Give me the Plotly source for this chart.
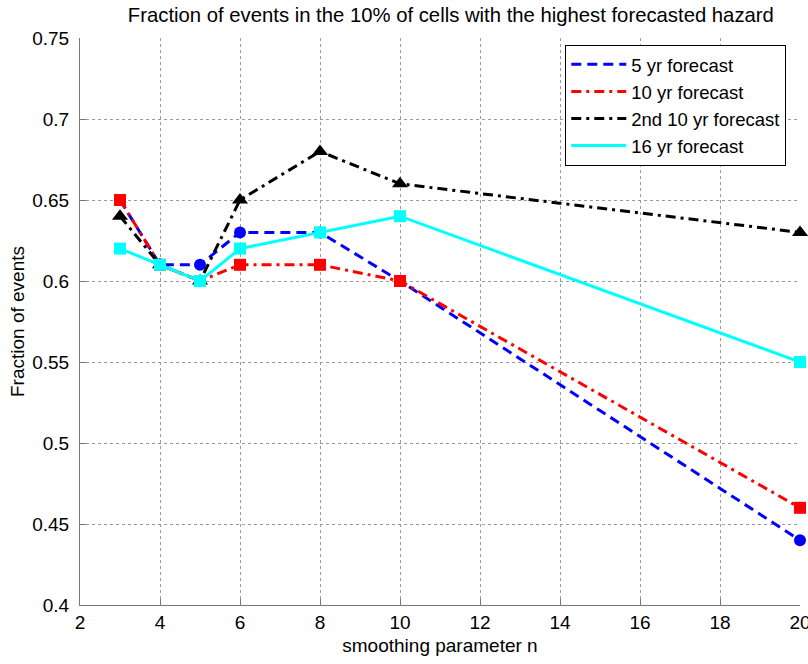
import plotly.graph_objects as go

n_vals = [3, 4, 5, 6, 8, 10, 20]
yr5 = [0.65, 0.61, 0.61, 0.63, 0.63, 0.60, 0.44]
yr10 = [0.65, 0.61, 0.60, 0.61, 0.61, 0.60, 0.46]
yr10_2nd = [0.64, 0.61, 0.60, 0.65, 0.68, 0.66, 0.63]
yr16 = [0.62, 0.61, 0.60, 0.62, 0.63, 0.64, 0.55]

series_names = ["5 yr forecast", "10 yr forecast", "2nd 10 yr forecast", "16 yr forecast"]
series_vals = [yr5, yr10, yr10_2nd, yr16]
colors = ["#0000ff", "#ff0000", "#000000", "#00ffff"]
dashes = ["10px,6px", "10px,5px,3px,5px", "10px,5px,3px,5px", "solid"]
symbols = ["circle", "square", "triangle-up", "square"]

xticks = [2, 4, 6, 8, 10, 12, 14, 16, 18, 20]
yticks = [0.4, 0.45, 0.5, 0.55, 0.6, 0.65, 0.7, 0.75]
ytick_text = ["0.4", "0.45", "0.5", "0.55", "0.6", "0.65", "0.7", "0.75"]

fig = go.Figure()
for name, vals, c, d, s in zip(series_names, series_vals, colors, dashes, symbols):
    fig.add_trace(go.Scatter(x=n_vals, y=vals, mode="lines", name=name, cliponaxis=False,
                             line=dict(color=c, dash=d, width=3)))
    fig.add_trace(go.Scatter(x=n_vals, y=vals, mode="markers", showlegend=False,
                             cliponaxis=False,
                             marker=dict(color=c, symbol=s, size=12 if s != "triangle-up" else 14,
                                         line=dict(width=0))))

font = "Liberation Sans, Arial, Helvetica, sans-serif"
fig.update_layout(
    width=808, height=664,
    margin=dict(l=80, r=8, t=38, b=59),
    paper_bgcolor="white", plot_bgcolor="white",
    font=dict(family=font, size=19, color="black"),
    title=dict(text="Fraction of events in the 10% of cells with the highest forecasted hazard",
               x=0.558, xanchor="center", y=0.977, yanchor="middle",
               font=dict(size=20.3, color="black")),
    xaxis=dict(range=[2, 20], tickvals=xticks, showgrid=True, gridcolor="#9a9a9a",
               griddash="dot", gridwidth=1, showline=True, linecolor="#777", linewidth=1,
               ticks="inside", ticklen=6, tickcolor="#777", zeroline=False, automargin=False,
               ticklabeloverflow="allow",
               title=dict(text="smoothing parameter n", standoff=6, font=dict(size=19)),
               tickfont=dict(size=19)),
    yaxis=dict(range=[0.4, 0.75], tickvals=yticks, ticktext=ytick_text, showgrid=True,
               gridcolor="#9a9a9a", griddash="dot", gridwidth=1, showline=True, linecolor="#777",
               linewidth=1, ticks="inside", ticklen=6, tickcolor="#777", zeroline=False,
               automargin=False, ticklabelstandoff=6,
               title=dict(text="Fraction of events", standoff=2, font=dict(size=19)),
               tickfont=dict(size=19)),
    legend=dict(x=0.674, y=0.988, xanchor="left", yanchor="top", bgcolor="white",
                bordercolor="black", borderwidth=1, font=dict(size=18.5), itemwidth=55,
                tracegroupgap=0),
    showlegend=True,
)
fig.write_html("out.html", config={"displayModeBar": False},
               post_script="document.body.style.margin='0';")
